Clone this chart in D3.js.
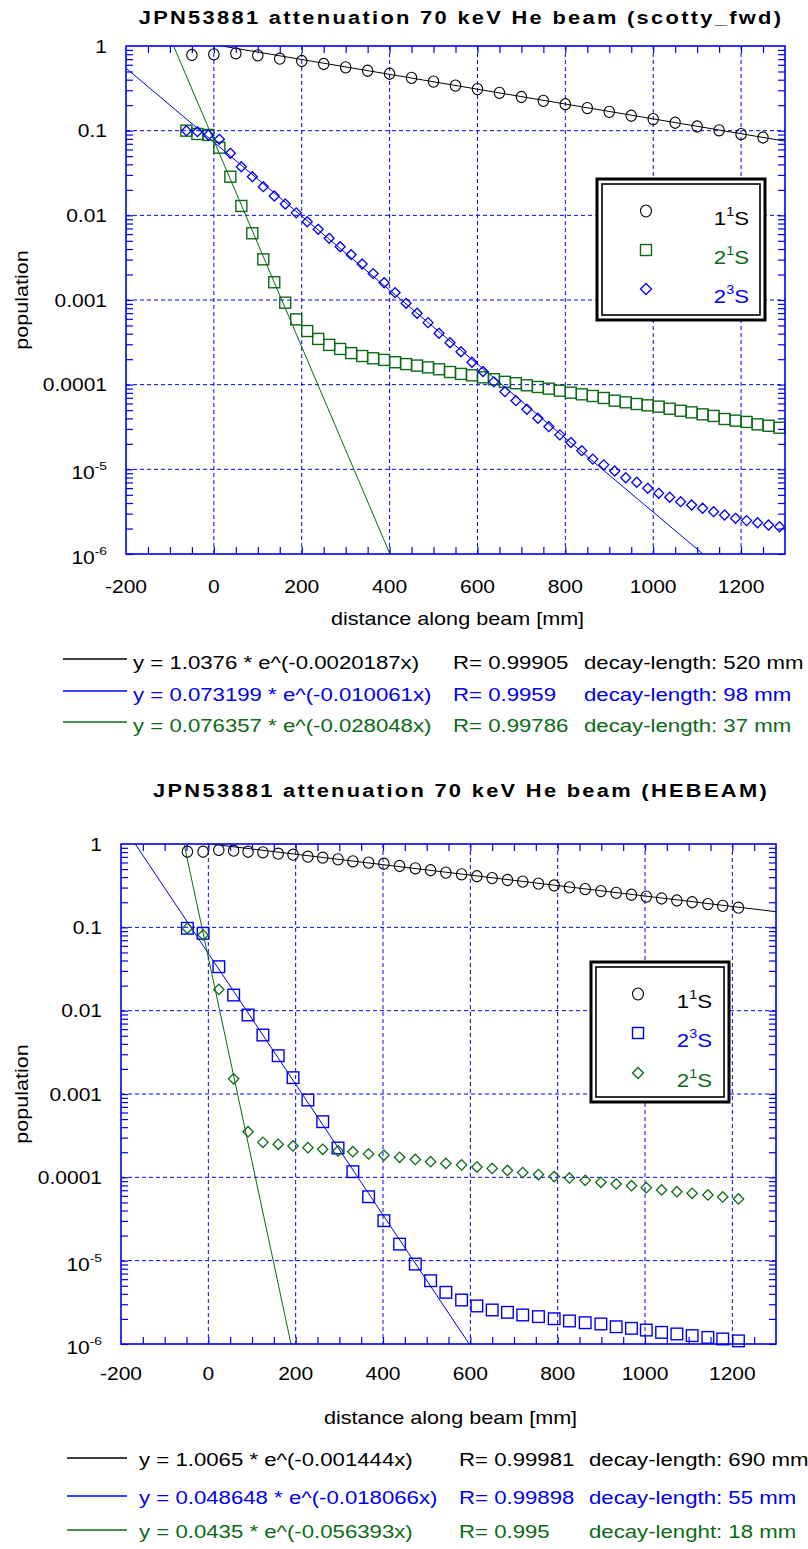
<!DOCTYPE html>
<html>
<head>
<meta charset="utf-8">
<script src="https://cdn.jsdelivr.net/npm/d3@7"></script>
<style>
  body { margin: 0; background: #fff; }
  svg { display: block; font-family: "Liberation Sans", Arial, sans-serif; }
</style>
</head>
<body>
<svg id="chart" width="808" height="1549"></svg>
<script>
const BLUE = '#0000f0'
const GREEN = '#0b6a16'
const BLACK = '#000000'

// shared axis ticks
const xTicks = [-200, 0, 200, 400, 600, 800, 1000, 1200]
const yTicks = [1, 0.1, 0.01, 0.001, 0.0001, 1e-5, 1e-6]
const yTickLabels = ['1', '0.1', '0.01', '0.001', '0.0001', '10^-5', '10^-6']

// ---- top panel (scotty_fwd) ----
const topX1S = [-50, 0, 50, 100, 150, 200, 250, 300, 350, 400, 450, 500, 550, 600, 650, 700,
  750, 800, 850, 900, 950, 1000, 1050, 1100, 1150, 1200, 1250]
const top1S = [0.783, 0.798, 0.82, 0.776, 0.708, 0.665, 0.613, 0.56, 0.51, 0.47, 0.42, 0.38,
  0.34, 0.31, 0.28, 0.25, 0.225, 0.205, 0.185, 0.167, 0.15, 0.137, 0.124, 0.112, 0.101, 0.091, 0.083]
const topX2S = [-62.5, -37.5, -12.5, 12.5, 37.5, 62.5, 87.5, 112.5, 137.5, 162.5, 187.5, 212.5,
  237.5, 262.5, 287.5, 312.5, 337.5, 362.5, 387.5, 412.5, 437.5, 462.5, 487.5, 512.5, 537.5,
  562.5, 587.5, 612.5, 637.5, 662.5, 687.5, 712.5, 737.5, 762.5, 787.5, 812.5, 837.5, 862.5,
  887.5, 912.5, 937.5, 962.5, 987.5, 1012.5, 1037.5, 1062.5, 1087.5, 1112.5, 1137.5, 1162.5,
  1187.5, 1212.5, 1237.5, 1262.5, 1287.5]
const top21S = [0.1, 0.0914, 0.089, 0.063, 0.0286, 0.0129, 0.00614, 0.00302, 0.00162, 0.00093,
  0.00059, 0.00043, 0.000347, 0.000295, 0.000264, 0.000236, 0.000218, 0.000205, 0.000196,
  0.000184, 0.000175, 0.000168, 0.00016, 0.000152, 0.000141, 0.000134, 0.000129, 0.000122,
  0.000116, 0.000108, 0.000104, 9.84e-5, 9.39e-5, 8.97e-5, 8.49e-5, 8.04e-5, 7.69e-5, 7.35e-5,
  6.96e-5, 6.47e-5, 6.19e-5, 5.91e-5, 5.7e-5, 5.5e-5, 5.2e-5, 4.92e-5, 4.71e-5, 4.46e-5,
  4.27e-5, 3.93e-5, 3.76e-5, 3.63e-5, 3.4e-5, 3.27e-5, 3.1e-5]
const top23S = [0.1, 0.0973, 0.0889, 0.079, 0.054, 0.0375, 0.0286, 0.0218, 0.0169, 0.0136,
  0.0107, 0.0084, 0.00684, 0.00535, 0.00426, 0.00343, 0.00266, 0.00205, 0.0016, 0.00122,
  0.000914, 0.000697, 0.00054, 0.000404, 0.000313, 0.000245, 0.000184, 0.000143, 0.000108,
  8.26e-5, 6.47e-5, 5.12e-5, 4.01e-5, 3.19e-5, 2.55e-5, 2.07e-5, 1.66e-5, 1.32e-5, 1.13e-5,
  9.55e-6, 7.96e-6, 7.03e-6, 5.97e-6, 5.21e-6, 4.68e-6, 4.15e-6, 3.79e-6, 3.47e-6, 3.16e-6,
  2.89e-6, 2.64e-6, 2.48e-6, 2.34e-6, 2.2e-6, 2.1e-6]
const topFitA = [1.0376, 0.073199, 0.076357]
const topFitB = [0.0020187, 0.010061, 0.028048]
const topFitColors = [BLACK, BLUE, GREEN]
const topFitEq = ['y = 1.0376 * e^(-0.0020187x)', 'y = 0.073199 * e^(-0.010061x)', 'y = 0.076357 * e^(-0.028048x)']
const topFitR = ['R= 0.99905', 'R= 0.9959', 'R= 0.99786']
const topFitDecay = ['decay-length: 520 mm', 'decay-length: 98 mm', 'decay-length: 37 mm']

// ---- bottom panel (HEBEAM) ----
const botX = [-48, -12, 24, 58, 91, 125, 160, 194, 228, 262, 297, 331, 367, 402, 438, 474, 509,
  544, 580, 615, 650, 685, 720, 756, 792, 827, 863, 899, 934, 969, 1003, 1038, 1073, 1108,
  1144, 1178, 1214]
const bot1S = [0.808, 0.808, 0.847, 0.831, 0.808, 0.795, 0.765, 0.744, 0.704, 0.685, 0.655,
  0.62, 0.597, 0.58, 0.545, 0.511, 0.484, 0.453, 0.433, 0.41, 0.39, 0.37, 0.353, 0.335, 0.318,
  0.302, 0.287, 0.272, 0.259, 0.246, 0.234, 0.222, 0.21, 0.2, 0.19, 0.181, 0.172]
const bot23S = [0.0974, 0.0848, 0.0337, 0.0154, 0.00887, 0.0051, 0.00288, 0.00157, 0.000847,
  0.000465, 0.000225, 0.000117, 5.85e-5, 3.02e-5, 1.58e-5, 9.1e-6, 5.75e-6, 4.17e-6, 3.37e-6,
  2.86e-6, 2.56e-6, 2.4e-6, 2.23e-6, 2.13e-6, 2.01e-6, 1.89e-6, 1.8e-6, 1.74e-6, 1.61e-6,
  1.54e-6, 1.47e-6, 1.38e-6, 1.32e-6, 1.26e-6, 1.2e-6, 1.15e-6, 1.09e-6]
const bot21S = [0.0974, 0.081, 0.018, 0.00152, 0.000353, 0.000263, 0.000249, 0.000238,
  0.000227, 0.000217, 0.000207, 0.000203, 0.000191, 0.000184, 0.000174, 0.000164, 0.000154,
  0.000147, 0.000141, 0.000133, 0.000128, 0.000121, 0.000114, 0.000108, 0.000102, 9.82e-5,
  9.2e-5, 8.71e-5, 8.32e-5, 7.94e-5, 7.52e-5, 7.05e-5, 6.73e-5, 6.43e-5, 6.14e-5, 5.81e-5, 5.5e-5]
const botFitA = [1.0065, 0.048648, 0.0435]
const botFitB = [0.001444, 0.018066, 0.056393]
const botFitColors = [BLACK, BLUE, GREEN]
const botFitEq = ['y = 1.0065 * e^(-0.001444x)', 'y = 0.048648 * e^(-0.018066x)', 'y = 0.0435 * e^(-0.056393x)']
const botFitR = ['R= 0.99981', 'R= 0.99898', 'R= 0.995']
const botFitDecay = ['decay-length: 690 mm', 'decay-length: 55 mm', 'decay-lenght: 18 mm']

const svg = d3.select('#chart')

// text that is a little wider than the font draws it (the reference is stretched)
function stext (parent, x, y, opts = {}) {
  let tr = `translate(${x},${y})`
  if (opts.rotate) tr += ` rotate(${opts.rotate})`
  tr += ` scale(${opts.sx || 1.2},1)`
  return parent.append('g').attr('transform', tr)
    .append('text')
    .attr('text-anchor', opts.anchor || 'start')
    .attr('font-size', opts.size || 18)
    .attr('font-weight', opts.weight || 'normal')
    .attr('fill', opts.color || BLACK)
}

function marker (sel, shape, color, s) {
  if (shape === 'circle') {
    sel.append('ellipse').attr('rx', s).attr('ry', s * 1.08)
      .attr('fill', 'none').attr('stroke', color).attr('stroke-width', 1.1)
  } else if (shape === 'square') {
    sel.append('rect').attr('x', -s).attr('y', -s).attr('width', 2 * s).attr('height', 2 * s)
      .attr('fill', 'none').attr('stroke', color).attr('stroke-width', 1.4)
  } else {
    sel.append('path').attr('d', `M0,${-s}L${s},0L0,${s}L${-s},0Z`)
      .attr('fill', 'none').attr('stroke', color).attr('stroke-width', 1.3)
  }
}

function drawPanel (p) {
  const x = d3.scaleLinear().domain([-200, 1300]).range([p.left, p.right])
  const y = d3.scaleLog().domain([1e-6, 1]).range([p.bottom, p.top])
  const g = svg.append('g')

  // title
  stext(g, p.titleX, p.titleY, { anchor: 'middle', size: 19, weight: 'bold', sx: 1.15 })
    .attr('letter-spacing', 2).text(p.title)

  // grid
  g.append('g').selectAll('line').data(xTicks.slice(1)).join('line')
    .attr('x1', d => x(d)).attr('x2', d => x(d))
    .attr('y1', p.top).attr('y2', p.bottom)
    .attr('stroke', BLUE).attr('stroke-dasharray', '4,3')
  g.append('g').selectAll('line').data(yTicks.slice(1, -1)).join('line')
    .attr('x1', p.left).attr('x2', p.right)
    .attr('y1', d => y(d)).attr('y2', d => y(d))
    .attr('stroke', BLUE).attr('stroke-dasharray', '4,3')

  // fit lines, clipped to the plot
  const clipId = 'clip-' + p.id
  g.append('clipPath').attr('id', clipId).append('rect')
    .attr('x', p.left).attr('y', p.top)
    .attr('width', p.right - p.left).attr('height', p.bottom - p.top)
  const line = d3.line().x(d => x(d[0])).y(d => y(d[1]))
  p.fitA.forEach((a, i) => {
    const b = p.fitB[i]
    const ends = [-200, 1300].map(v => [v, a * Math.exp(-b * v)])
    g.append('path').attr('d', line(ends)).attr('clip-path', `url(#${clipId})`)
      .attr('fill', 'none').attr('stroke', p.fitColors[i]).attr('stroke-width', 1)
  })

  // markers
  p.series.forEach(s => {
    g.append('g').selectAll('g').data(s.y).join('g')
      .attr('transform', (d, i) => `translate(${x(s.x[i])},${y(d)})`)
      .each(function () { marker(d3.select(this), s.shape, s.color, s.size) })
  })

  // ticks on all four sides, pointing inward
  const minorX = d3.range(-150, 1300, 50)
  const minorY = []
  for (let e = -6; e < 0; e++) for (let m = 1; m <= 9; m++) minorY.push(+(m + 'e' + e))
  const styleAxis = a => {
    a.select('.domain').remove()
    a.selectAll('line').attr('stroke', BLUE).attr('stroke-width', 1.2)
  }
  g.append('g').attr('transform', `translate(0,${p.bottom})`)
    .call(d3.axisTop(x).tickValues(minorX).tickSize(7).tickFormat('')).call(styleAxis)
  g.append('g').attr('transform', `translate(0,${p.top})`)
    .call(d3.axisBottom(x).tickValues(minorX).tickSize(7).tickFormat('')).call(styleAxis)
  g.append('g').attr('transform', `translate(${p.left},0)`)
    .call(d3.axisRight(y).tickValues(minorY).tickSize(7).tickFormat('')).call(styleAxis)
  g.append('g').attr('transform', `translate(${p.right},0)`)
    .call(d3.axisLeft(y).tickValues(minorY).tickSize(7).tickFormat('')).call(styleAxis)

  // frame
  g.append('rect').attr('x', p.left).attr('y', p.top)
    .attr('width', p.right - p.left).attr('height', p.bottom - p.top)
    .attr('fill', 'none').attr('stroke', BLUE).attr('stroke-width', 1.6)

  // tick labels
  xTicks.forEach(v => {
    stext(g, x(v), p.xLabelY, { anchor: 'middle', size: 17.5 }).text(v)
  })
  yTicks.forEach((v, i) => {
    const lab = yTickLabels[i]
    if (lab.includes('^')) {
      const [base, sup] = lab.split('^')
      const t = stext(g, p.left - 19, y(v) + 10, { anchor: 'end', size: 17.5 })
      t.append('tspan').text(base)
      t.append('tspan').attr('font-size', 11.5).attr('dy', -9).text(sup)
    } else {
      stext(g, p.left - 19, y(v) + 6.5, { anchor: 'end', size: 17.5 }).text(lab)
    }
  })

  // axis titles
  stext(g, (p.left + p.right) / 2 + 2, p.axisTitleY, { anchor: 'middle' }).text('distance along beam [mm]')
  stext(g, 22, (p.top + p.bottom) / 2, { anchor: 'middle', rotate: -90 })
    .attr('dy', '0.35em').text('population')

  // legend box
  const L = p.legend
  g.append('rect').attr('x', L.x).attr('y', L.y).attr('width', L.w).attr('height', L.h)
    .attr('fill', '#fff').attr('stroke', BLACK).attr('stroke-width', 3)
  g.append('rect').attr('x', L.x + 5).attr('y', L.y + 5).attr('width', L.w - 10).attr('height', L.h - 10)
    .attr('fill', 'none').attr('stroke', BLACK).attr('stroke-width', 1.6)
  L.items.forEach((it, i) => {
    const cy = L.rowY[i]
    const mg = g.append('g').attr('transform', `translate(${L.symX},${cy})`)
    marker(mg, it.shape, it.color, 5.5)
    const t = stext(g, L.labelX, cy + 14, { anchor: 'end', size: 18.5, color: it.color })
    t.append('tspan').text(it.label[0])
    t.append('tspan').attr('font-size', 12).attr('dy', -9).text(it.label[1])
    t.append('tspan').attr('dy', 9).text(it.label[2])
  })

  // fit equations under the panel
  p.fitEq.forEach((eq, i) => {
    const ly = p.fitRowY[i]
    const c = p.fitColors[i]
    g.append('line').attr('x1', p.fitLineX[0]).attr('x2', p.fitLineX[1])
      .attr('y1', ly).attr('y2', ly).attr('stroke', c).attr('stroke-width', 1.3)
    stext(g, p.fitTextX[0], ly + p.fitDy, { size: 18.5, color: c }).text(eq)
    stext(g, p.fitTextX[1], ly + p.fitDy, { size: 18.5, color: c }).text(p.fitR[i])
    stext(g, p.fitTextX[2], ly + p.fitDy, { size: 18.5, color: c }).text(p.fitDecay[i])
  })
}

drawPanel({
  id: 'top',
  title: 'JPN53881 attenuation 70 keV He beam (scotty_fwd)',
  titleX: 461, titleY: 24,
  left: 126, right: 785, top: 46, bottom: 554,
  xLabelY: 593, axisTitleY: 625,
  series: [
    { x: topX1S, y: top1S, shape: 'circle', color: BLACK, size: 5.2 },
    { x: topX2S, y: top21S, shape: 'square', color: GREEN, size: 5.5 },
    { x: topX2S, y: top23S, shape: 'diamond', color: BLUE, size: 5 }
  ],
  fitA: topFitA, fitB: topFitB, fitColors: topFitColors,
  fitEq: topFitEq, fitR: topFitR, fitDecay: topFitDecay,
  fitRowY: [659, 691, 722], fitDy: 10, fitLineX: [63, 127], fitTextX: [133, 453, 584],
  legend: {
    x: 597, y: 179, w: 168, h: 141, symX: 646, labelX: 749, rowY: [211, 250, 289],
    items: [
      { shape: 'circle', color: BLACK, label: ['1', '1', 'S'] },
      { shape: 'square', color: GREEN, label: ['2', '1', 'S'] },
      { shape: 'diamond', color: BLUE, label: ['2', '3', 'S'] }
    ]
  }
})

drawPanel({
  id: 'bot',
  title: 'JPN53881 attenuation 70 keV He beam (HEBEAM)',
  titleX: 461, titleY: 797,
  left: 121, right: 776, top: 844, bottom: 1344,
  xLabelY: 1380, axisTitleY: 1424,
  series: [
    { x: botX, y: bot1S, shape: 'circle', color: BLACK, size: 5.2 },
    { x: botX, y: bot23S, shape: 'square', color: BLUE, size: 5.8 },
    { x: botX, y: bot21S, shape: 'diamond', color: GREEN, size: 5.2 }
  ],
  fitA: botFitA, fitB: botFitB, fitColors: botFitColors,
  fitEq: botFitEq, fitR: botFitR, fitDecay: botFitDecay,
  fitRowY: [1458, 1496, 1530], fitDy: 8, fitLineX: [67, 127], fitTextX: [139, 459, 589],
  legend: {
    x: 591, y: 962, w: 138, h: 140, symX: 638, labelX: 712, rowY: [994, 1033, 1073],
    items: [
      { shape: 'circle', color: BLACK, label: ['1', '1', 'S'] },
      { shape: 'square', color: BLUE, label: ['2', '3', 'S'] },
      { shape: 'diamond', color: GREEN, label: ['2', '1', 'S'] }
    ]
  }
})
</script>
</body>
</html>
